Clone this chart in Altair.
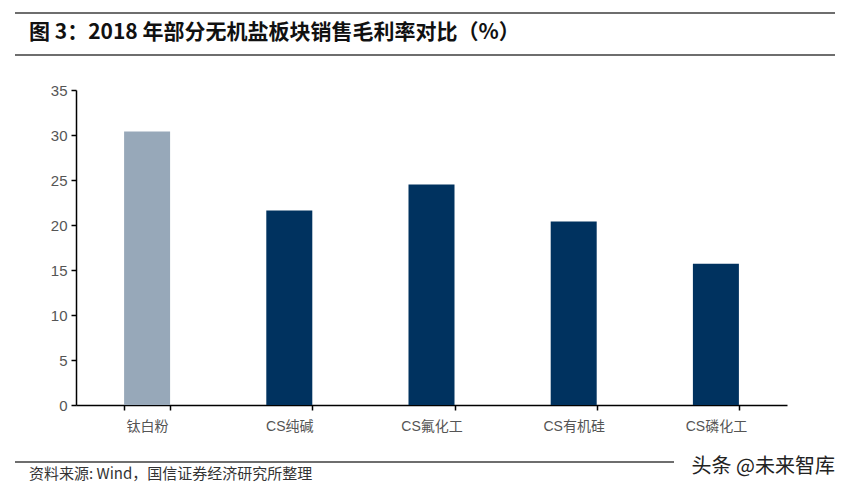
import altair as alt
import pandas as pd

categories = ["钛白粉", "CS纯碱", "CS氟化工", "CS有机硅", "CS磷化工"]
values = [30.4, 21.6, 24.5, 20.4, 15.7]
groups = ["a", "b", "b", "b", "b"]
y_ticks = [0, 5, 10, 15, 20, 25, 30, 35]

title_text = "图 3：2018 年部分无机盐板块销售毛利率对比（%）"
source_text = "资料来源: Wind，国信证券经济研究所整理"
watermark_text = "头条 @未来智库"

df = pd.DataFrame({"cat": categories, "val": values, "grp": groups})
one = pd.DataFrame({"k": [0]})

LABEL_FONT = "Liberation Sans, Noto Sans CJK SC"

bars = alt.Chart(df).mark_bar(size=46).encode(
    x=alt.X("cat:N", sort=categories, title=None,
            scale=alt.Scale(paddingInner=0.676, paddingOuter=0.338),
            axis=alt.Axis(tickBand="extent", labelAngle=0, domainColor="#000000",
                          domainWidth=1.5, tickColor="#000000", tickWidth=1.5,
                          tickSize=5, labelPadding=9, labelFontSize=14,
                          labelColor="#555555", labelFont=LABEL_FONT)),
    y=alt.Y("val:Q", title=None,
            scale=alt.Scale(domain=[0, 35], nice=False),
            axis=alt.Axis(values=y_ticks, grid=False, domainColor="#000000",
                          domainWidth=1.5, tickColor="#000000", tickWidth=1.5,
                          tickSize=5, labelPadding=4, labelFontSize=15,
                          labelColor="#555555", labelFont="Liberation Sans")),
    color=alt.Color("grp:N", legend=None,
                    scale=alt.Scale(domain=["a", "b"], range=["#97a8b9", "#00325f"])),
)

rule_style = dict(color="#6e6e6e", strokeWidth=2)
top_rule = alt.Chart(one).mark_rule(**rule_style).encode(
    x=alt.value(-61), x2=alt.value(759), y=alt.value(-77))
mid_rule = alt.Chart(one).mark_rule(**rule_style).encode(
    x=alt.value(-61), x2=alt.value(759), y=alt.value(-35))
bot_rule = alt.Chart(one).mark_rule(**rule_style).encode(
    x=alt.value(-61), x2=alt.value(598), y=alt.value(372))

title = alt.Chart(one).mark_text(
    text=title_text, align="left", baseline="middle", fontSize=21,
    fontWeight="bold", font="Noto Sans CJK SC", color="#111111"
).encode(x=alt.value(-47), y=alt.value(-57))

source = alt.Chart(one).mark_text(
    text=source_text, align="left", baseline="middle", fontSize=15,
    font="Noto Sans CJK SC", color="#333333"
).encode(x=alt.value(-47), y=alt.value(384))

watermark = alt.Chart(one).mark_text(
    text=watermark_text, align="right", baseline="middle", fontSize=20,
    font="Noto Sans CJK SC", color="#222222"
).encode(x=alt.value(759), y=alt.value(377))

chart = alt.layer(bars, top_rule, mid_rule, bot_rule, title, source, watermark).properties(
    width=711, height=315,
    padding={"left": 68, "top": 82, "right": 49, "bottom": 83},
    autosize=alt.AutoSizeParams(type="none"),
).configure(background="#ffffff").configure_view(strokeWidth=0)

chart.save("out.html", embed_options={"renderer": "svg", "actions": False})
